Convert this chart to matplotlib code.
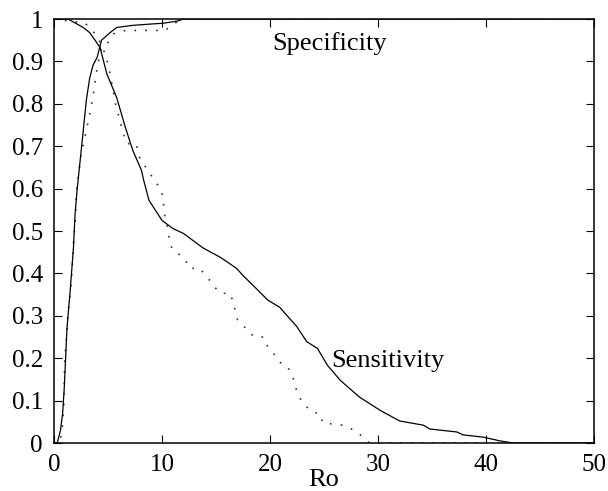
import matplotlib
matplotlib.use("Agg")
import matplotlib.pyplot as plt
from matplotlib.ticker import FormatStrFormatter

# solid curves
spec_x = [0, 0.3, 0.6, 0.8, 0.95, 1.2, 1.5, 1.8, 1.95, 2.15, 2.6, 3.0, 3.3, 3.6,
          4.0, 4.4, 5.2, 5.8, 7.3, 8.9, 10.1, 11.4, 12.0, 50]
spec_y = [0, 0.0, 0.03, 0.07, 0.13, 0.27, 0.36, 0.46, 0.54, 0.6, 0.71, 0.81, 0.86, 0.89,
          0.91, 0.95, 0.968, 0.98, 0.985, 0.988, 0.99, 0.995, 1.0, 1.0]

sens_x = [0, 1.3, 2.0, 2.7, 3.3, 3.8, 4.26, 4.9, 5.8, 6.6, 7.3, 8.1, 8.3, 8.8, 10, 11,
          12, 13.8, 15.4, 16.9, 17.5, 18.5, 19.8, 20.9, 22.5, 23.4, 24.4, 25.3, 26.5,
          28.3, 30.2, 32, 34.2, 34.8, 37.3, 37.9, 39.7, 41.3, 42.5, 50]
sens_y = [1, 1.0, 0.99, 0.98, 0.968, 0.95, 0.933, 0.87, 0.815, 0.745, 0.69, 0.643, 0.62,
          0.572, 0.525, 0.506, 0.494, 0.46, 0.438, 0.412, 0.395, 0.37, 0.337, 0.32, 0.274,
          0.239, 0.223, 0.184, 0.148, 0.108, 0.077, 0.052, 0.042, 0.033, 0.026, 0.019,
          0.014, 0.005, 0, 0]

# dotted curves
spec2_x = [0, 0.5, 0.75, 0.9, 1.0, 1.2, 1.3, 1.6, 1.8, 2.0, 2.1, 2.5, 3.1, 3.6, 4.0,
           4.4, 4.9, 5.5, 6.6, 10.3, 10.9, 11.8, 50]
spec2_y = [0, 0.0, 0.03, 0.08, 0.2, 0.26, 0.306, 0.377, 0.47, 0.54, 0.596, 0.68, 0.75,
           0.815, 0.886, 0.933, 0.94, 0.965, 0.973, 0.973, 0.985, 1.0, 1.0]

sens2_x = [0, 2.9, 4.0, 4.8, 5.2, 5.7, 6.2, 6.7, 7.6, 8.0, 8.6, 9.4, 9.8, 10.1, 10.2,
           10.6, 10.7, 11.0, 11.7, 12.2, 12.5, 13.5, 14.0, 14.4, 14.9, 15.4, 16.3, 16.6,
           16.8, 17.0, 17.5, 18.0, 18.6, 19.4, 19.8, 20.3, 20.9, 21.5, 22.0, 22.3, 22.5,
           22.9, 23.4, 24.0, 24.6, 24.9, 25.8, 26.7, 27.4, 28.0, 28.6, 29.2, 50]
sens2_y = [1, 0.99, 0.96, 0.914, 0.87, 0.8, 0.75, 0.706, 0.706, 0.667, 0.647, 0.615,
           0.603, 0.58, 0.544, 0.497, 0.473, 0.455, 0.443, 0.431, 0.412, 0.412, 0.396,
           0.384, 0.367, 0.353, 0.353, 0.332, 0.31, 0.29, 0.278, 0.262, 0.25, 0.25, 0.227,
           0.212, 0.19, 0.184, 0.164, 0.141, 0.118, 0.10, 0.085, 0.072, 0.07, 0.047,
           0.045, 0.042, 0.035, 0.027, 0.014, 0, 0]

x_ticks = [0, 10, 20, 30, 40, 50]
y_ticks = [0, 0.1, 0.2, 0.3, 0.4, 0.5, 0.6, 0.7, 0.8, 0.9, 1]

plt.rcParams['font.family'] = ['Liberation Serif', 'DejaVu Serif']

fig = plt.figure(figsize=(6.08, 4.91), dpi=100)
ax = fig.add_axes([54 / 608, 48 / 491, 540 / 608, 424 / 491])

ax.plot(spec2_x, spec2_y, color='#333333', linewidth=1.2, linestyle=(0, (1, 5.5)))
ax.plot(sens2_x, sens2_y, color='#333333', linewidth=1.2, linestyle=(0, (1, 5.5)))
ax.plot(spec_x, spec_y, color='black', linewidth=0.9)
ax.plot(sens_x, sens_y, color='black', linewidth=0.9)

ax.text(20.2, 0.926, 'Specificity', fontsize=19, va='baseline', ha='left')
ax.text(25.7, 0.179, 'Sensitivity', fontsize=19, va='baseline', ha='left')

ax.set_xlim(0, 50)
ax.set_ylim(0, 1)
ax.set_xticks(x_ticks)
ax.set_yticks(y_ticks)
ax.yaxis.set_major_formatter(FormatStrFormatter('%g'))
ax.tick_params(direction='in', length=5.5, width=0.8, labelsize=18,
               top=True, right=True, pad=8)
ax.set_xlabel('Ro', fontsize=19, labelpad=-5)
for s in ax.spines.values():
    s.set_linewidth(1.1)

fig.savefig('out.png', dpi=100, facecolor='white')
